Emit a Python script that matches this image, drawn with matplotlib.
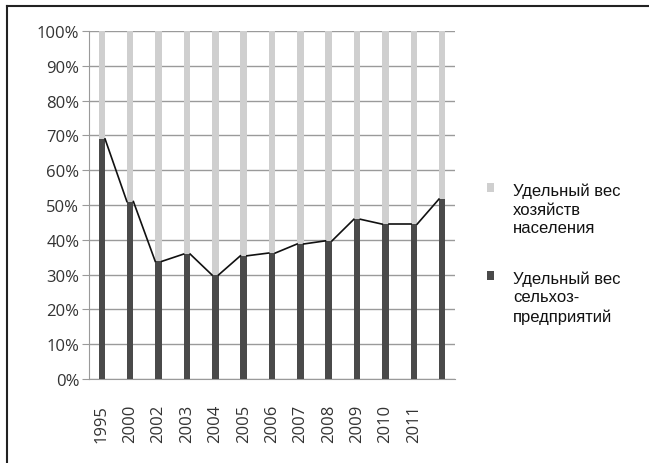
import numpy as np
import matplotlib
matplotlib.use("Agg")
import matplotlib.pyplot as plt
from matplotlib.lines import Line2D
from matplotlib.patches import Rectangle
from matplotlib.ticker import PercentFormatter

# data (last bar has no year label)
years = ["1995", "2000", "2002", "2003", "2004", "2005", "2006",
         "2007", "2008", "2009", "2010", "2011", ""]
farms = [69.0, 51.0, 33.8, 35.9, 29.9, 35.4, 36.2, 38.8, 39.7, 45.9, 44.5, 44.5, 51.7]
households = [100 - v for v in farms]

label_households = "Удельный вес\nхозяйств\nнаселения"
label_farms = "Удельный вес\nсельхоз-\nпредприятий"

dark = "#4a4a4a"
light = "#cfcfcf"
width = 0.23
W, H = 649, 464

fig = plt.figure(figsize=(6.49, 4.64), dpi=100)
ax = fig.add_axes([89 / W, 1 - 380 / H, 366 / W, 348 / H])

x = np.arange(len(years))
ax.bar(x, farms, width, color=dark, zorder=3)
ax.bar(x, households, width, bottom=farms, color=light, zorder=3)

# series lines between bar tops
for i in range(len(x) - 1):
    ax.plot([x[i] + width / 2, x[i + 1] - width / 2], [farms[i], farms[i + 1]],
            color="#111111", lw=1.2, zorder=4)

ax.set_xlim(-0.45, len(x) - 0.55)
ax.set_ylim(0, 100)
ax.set_yticks(np.arange(0, 101, 10))
ax.yaxis.set_major_formatter(PercentFormatter(decimals=0))
ax.set_xticks(x)
ax.set_xticklabels(years, rotation=90, fontfamily="Open Sans", fontsize=12, color="#333333")
for t in ax.get_yticklabels():
    t.set_fontfamily("Open Sans")
    t.set_fontsize(12)
    t.set_color("#333333")

ax.grid(axis="y", color="#9a9a9a", lw=1, zorder=0)
for s in ["top", "right"]:
    ax.spines[s].set_visible(False)
ax.spines["left"].set_color("#9a9a9a")
ax.spines["bottom"].set_color("#9a9a9a")
ax.tick_params(axis="y", length=5, color="#9a9a9a", pad=2)
ax.tick_params(axis="x", length=0, pad=18)

# legend drawn by hand beside the plot
fig.add_artist(Rectangle((487 / W, 1 - 193 / H), 7 / W, 9 / H, transform=fig.transFigure,
                         color=light, lw=0))
fig.add_artist(Rectangle((487 / W, 1 - 281 / H), 7 / W, 9 / H, transform=fig.transFigure,
                         color=dark, lw=0))
fig.text(513 / W, 1 - 210 / H, label_households, va="center", ha="left",
         family="Liberation Sans", fontsize=12, linespacing=1.3, color="#111111")
fig.text(513 / W, 1 - 298 / H, label_farms, va="center", ha="left",
         family="Liberation Sans", fontsize=12, linespacing=1.3, color="#111111")

# outer frame (top and left edges visible)
fig.add_artist(Line2D([0.011, 1.0], [0.985, 0.985], transform=fig.transFigure, color="#222222", lw=1.5))
fig.add_artist(Line2D([0.011, 0.011], [0.0, 0.985], transform=fig.transFigure, color="#222222", lw=1.5))

fig.savefig("out.png", dpi=100)
